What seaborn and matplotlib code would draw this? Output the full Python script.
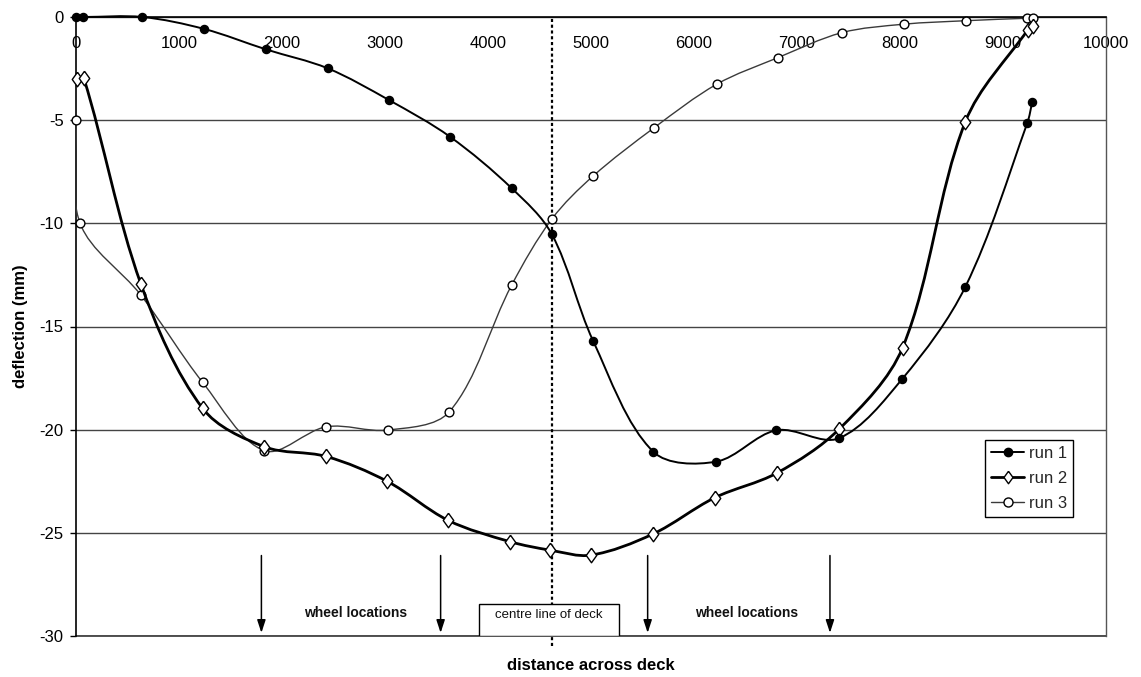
import numpy as np
import pandas as pd
import matplotlib
matplotlib.use("Agg")
import matplotlib.pyplot as plt
import seaborn as sns
from matplotlib.path import Path
from matplotlib.patches import PathPatch, Rectangle
from matplotlib.lines import Line2D
from matplotlib.ticker import MultipleLocator

# ---------------- data ----------------
run1_x = [0, 70, 645, 1245, 1845, 2445, 3040, 3630, 4230, 4620, 5020, 5605, 6215, 6800, 7405, 8020, 8635, 9235, 9285]
run1_y = [0, 0, 0, -0.58, -1.57, -2.49, -4.03, -5.8, -8.3, -10.53, -15.69, -21.07, -21.55, -20.03, -20.42, -17.55, -13.07, -5.15, -4.1]

run2_x = [10, 75, 630, 1230, 1830, 2430, 3020, 3615, 4215, 4605, 5000, 5600, 6200, 6805, 7410, 8025, 8635, 9240, 9290]
run2_y = [-3.0, -2.95, -12.94, -18.97, -20.83, -21.3, -22.5, -24.4, -25.43, -25.84, -26.08, -25.06, -23.3, -22.1, -19.97, -16.03, -5.07, -0.63, -0.42]

run3_x = [0, 40, 630, 1230, 1830, 2430, 3025, 3625, 4230, 4620, 5020, 5615, 6220, 6815, 7435, 8035, 8640, 9235, 9290]
run3_y = [-5.0, -10.0, -13.48, -17.71, -21.02, -19.86, -20.02, -19.13, -12.99, -9.79, -7.71, -5.36, -3.26, -1.97, -0.76, -0.35, -0.18, -0.06, -0.06]

series_names = ["run 1", "run 2", "run 3"]
x_ticks = list(range(0, 10001, 1000))
y_ticks = list(range(-30, 1, 5))

wheel_x = [1800, 3540, 5550, 7320]
wheel_label_x = [2712, 6508]
wheel_label = "wheel locations"
centre_x = 4620
centre_label = "centre line of deck"

# ---------------- style ----------------
sns.set_theme(style="white")
plt.rcParams["font.family"] = ["Liberation Sans", "DejaVu Sans"]
plt.rcParams["axes.unicode_minus"] = False

fig = plt.figure(figsize=(11.41, 6.77), dpi=100)
ax = fig.add_axes([76 / 1141, 1 - 636 / 677, 1030 / 1141, 619 / 677])
ax.set_facecolor("white")

X_SCALE = 1030 / 10000.0   # display px per data unit (x)
Y_SCALE = 619 / 30.0       # display px per data unit (y)


def smooth_path(xs, ys):
    """Smooth curve through the points (cubic Bezier, chord-length tangents)."""
    pts = np.column_stack([xs, ys]).astype(float)
    sc = np.array([X_SCALE, Y_SCALE])
    n = len(pts)

    def dist(a, b):
        return np.hypot(*((a - b) * sc))

    verts = [pts[0]]
    codes = [Path.MOVETO]
    for i in range(n - 1):
        p0 = pts[i - 1] if i > 0 else pts[i]
        p1 = pts[i]
        p2 = pts[i + 1]
        p3 = pts[i + 2] if i + 2 < n else pts[i + 1]
        d01, d12, d23 = dist(p0, p1), dist(p1, p2), dist(p2, p3)
        t1 = (p2 - p0) / max(d01 + d12, 1e-9)
        t2 = (p3 - p1) / max(d12 + d23, 1e-9)
        c1 = p1 + t1 * d12 / 3.0
        c2 = p2 - t2 * d12 / 3.0
        verts += [c1, c2, p2]
        codes += [Path.CURVE4] * 3
    return Path(verts, codes)


df = pd.concat([
    pd.DataFrame({"x": run1_x, "y": run1_y, "run": series_names[0]}),
    pd.DataFrame({"x": run2_x, "y": run2_y, "run": series_names[1]}),
    pd.DataFrame({"x": run3_x, "y": run3_y, "run": series_names[2]}),
])

diamond = [(0, 1), (0.72, 0), (0, -1), (-0.72, 0), (0, 1)]

styles = {
    "run 3": dict(lw=1.0, color="#3a3a3a", marker="o", s=40, fc="white", z=3),
    "run 2": dict(lw=2.0, color="black", marker=diamond, s=110, fc="white", z=4),
    "run 1": dict(lw=1.4, color="black", marker="o", s=34, fc="black", z=5),
}

clip_rect = Rectangle((0, 0), 1.02, 1.0 + 1.5 / 619, transform=ax.transAxes,
                      facecolor="none", edgecolor="none")

for name in ["run 3", "run 2", "run 1"]:
    sub = df[df["run"] == name]
    st = styles[name]
    patch = PathPatch(smooth_path(sub["x"].values, sub["y"].values), fill=False,
                      lw=st["lw"], edgecolor=st["color"], zorder=st["z"],
                      capstyle="round", joinstyle="round")
    ax.add_patch(patch)
    patch.set_clip_path(clip_rect)
    sns.scatterplot(data=sub, x="x", y="y", marker=st["marker"], s=st["s"],
                    color=st["fc"], edgecolor="black", linewidth=1.0,
                    ax=ax, zorder=st["z"] + 0.5, clip_on=False, legend=False)

# ---------------- axes ----------------
ax.set_xlim(0, 10000)
ax.set_ylim(-30, 0)
ax.set_xticks(x_ticks)
ax.set_xticklabels([str(v) for v in x_ticks])
ax.set_yticks(y_ticks)
ax.set_yticklabels([str(v) for v in y_ticks])
ax.xaxis.set_minor_locator(MultipleLocator(200))

ax.spines["bottom"].set_position(("data", 0))
ax.spines["top"].set_visible(False)
for s in ["bottom", "left"]:
    ax.spines[s].set_color("black")
    ax.spines[s].set_linewidth(1.2)
ax.spines["right"].set_color("#555555")
ax.spines["right"].set_linewidth(1.0)

ax.yaxis.grid(True, color="#444444", lw=1.0)
ax.xaxis.grid(False)
ax.set_axisbelow(True)
ax.axhline(-30, color="#333333", lw=1.2, clip_on=False, zorder=1)

ax.tick_params(axis="x", which="major", direction="in", length=5, width=1,
               color="black", labelsize=12, pad=14, labelcolor="black")
ax.tick_params(axis="x", which="minor", direction="in", length=2.5, width=0.8,
               color="#555555")
ax.tick_params(axis="y", which="major", direction="out", length=4, width=1,
               color="black", labelsize=12, pad=5, left=True, labelcolor="black")

ax.set_xlabel("distance across deck", fontsize=12, fontweight="bold", color="black")
ax.xaxis.set_label_coords(0.5, -0.036)
ax.set_ylabel("deflection (mm)", fontsize=12, fontweight="bold", color="black")
ax.yaxis.set_label_coords(-0.047, 0.5)

# ---------------- annotations ----------------
ax.vlines(centre_x, -30.5, 0, colors="black", lw=1.6, linestyles=(0, (1.4, 1.2)),
          zorder=2.5, clip_on=False)

for wx in wheel_x:
    ax.annotate("", xy=(wx, -29.85), xytext=(wx, -26.1),
                arrowprops=dict(arrowstyle="-|>,head_length=0.55,head_width=0.18",
                                color="black", lw=1.1, mutation_scale=14,
                                shrinkA=0, shrinkB=0), zorder=6)
for lx in wheel_label_x:
    ax.text(lx, -28.9, wheel_label, ha="center", va="center", fontsize=10,
            fontweight="bold", color="#111111", zorder=6)

box = Rectangle((3916, -30), 5268 - 3916, 1.55, facecolor="white",
                edgecolor="black", lw=1.0, zorder=7)
ax.add_patch(box)
ax.text((3916 + 5268) / 2, -29.0, centre_label, ha="center", va="center",
        fontsize=9.5, color="#111111", zorder=8)

# ---------------- legend ----------------
handles = [
    Line2D([], [], color="black", lw=1.4, marker="o", ms=6, mfc="black", mec="black"),
    Line2D([], [], color="black", lw=2.0, marker=diamond, ms=9, mfc="white", mec="black"),
    Line2D([], [], color="#3a3a3a", lw=1.0, marker="o", ms=6.5, mfc="white", mec="black"),
]
leg = ax.legend(handles, series_names, loc="upper right",
                bbox_to_anchor=((1074 - 76.7) / 1030, 1 - (440 - 17) / 619),
                fontsize=12, frameon=True, fancybox=False, edgecolor="black",
                framealpha=1, borderpad=0.35, labelspacing=0.6,
                handlelength=2.0, handletextpad=0.3, borderaxespad=0)
leg.get_frame().set_linewidth(1.0)
leg.set_zorder(10)

fig.savefig("out.png", dpi=100, facecolor="white")
